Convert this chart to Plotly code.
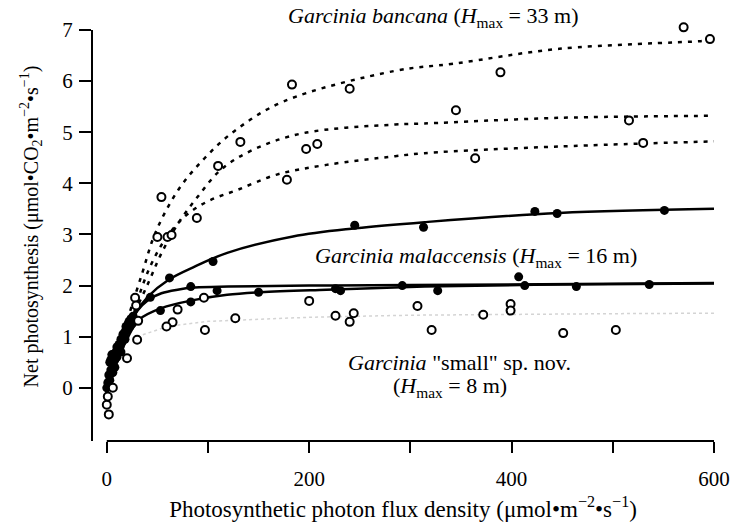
import plotly.graph_objects as go

# ---------------- data ----------------
# open circles, Garcinia bancana (upper group)
open_hi_x = [570, 596, 389, 345, 516, 364, 530, 54, 132, 197, 208, 110, 178, 89, 50, 60, 64, 183, 240]
open_hi_y = [7.05, 6.82, 6.17, 5.43, 5.23, 4.49, 4.79, 3.73, 4.81, 4.67, 4.77, 4.34, 4.07, 3.32, 2.95, 2.95, 2.99, 5.93, 5.85]

# open circles, Garcinia "small" sp. nov. (lower group)
open_lo_x = [307, 372, 399, 399, 321, 451, 503, 96, 70, 28, 29, 200, 226, 244, 240, 127, 65, 59, 97,
             2, 0, 1, 6, 20, 30, 31]
open_lo_y = [1.60, 1.43, 1.64, 1.51, 1.13, 1.07, 1.13, 1.76, 1.53, 1.76, 1.61, 1.70, 1.41, 1.46, 1.29, 1.36, 1.28, 1.20, 1.13,
             -0.52, -0.33, -0.17, 0.0, 0.58, 0.94, 1.31]

# filled circles, Garcinia malaccensis
filled_x = [313, 423, 445, 551, 245, 105, 62,
            292, 327, 407, 413, 464, 536, 83, 109, 150, 226, 231, 83, 53, 43,
            0, 1, 2, 2, 3, 4, 4, 5, 5, 6, 7, 8, 9, 10, 11, 12, 13, 14, 15, 16, 17, 18, 19, 20, 21, 22, 23, 24, 25, 26,
            3, 6, 8, 10, 14, 18]
filled_y = [3.14, 3.45, 3.41, 3.47, 3.18, 2.47, 2.15,
            2.00, 1.90, 2.17, 2.00, 1.98, 2.02, 1.98, 1.90, 1.87, 1.94, 1.90, 1.68, 1.51, 1.77,
            0.0, 0.1, 0.05, 0.25, 0.15, 0.35, 0.55, 0.3, 0.65, 0.45, 0.65, 0.55, 0.7, 0.6, 0.75, 0.85, 0.8, 0.95, 0.9,
            1.05, 1.0, 1.1, 1.2, 1.15, 1.25, 1.3, 1.2, 1.35, 1.25, 1.4,
            0.5, 0.3, 0.4, 0.8, 0.7, 0.95]

# fitted curves
dash1_x = [2, 10, 20, 35, 48, 70.6, 96.6, 126, 174.6, 285, 343, 447, 587, 600]
dash1_y = [0.0, 0.6, 1.3, 2.24, 3.03, 3.87, 4.49, 5.02, 5.6, 6.2, 6.34, 6.63, 6.78, 6.8]
dash2_x = [2, 15, 25, 41, 54, 70.6, 90, 113, 145, 194, 285, 314, 447, 600]
dash2_y = [0.0, 0.8, 1.35, 2.05, 2.63, 3.22, 3.74, 4.27, 4.66, 4.98, 5.15, 5.17, 5.28, 5.32]
dash3_x = [2, 15, 25, 35, 44.5, 57.6, 77, 100, 129, 168, 217, 285, 314, 447, 600]
dash3_y = [0.0, 0.8, 1.35, 1.98, 2.44, 2.9, 3.35, 3.65, 3.87, 4.17, 4.36, 4.53, 4.59, 4.72, 4.82]
solid1_x = [0, 10, 20, 28.4, 41, 60.8, 86.8, 119, 184, 246, 314, 447, 600]
solid1_y = [-0.1, 0.55, 1.1, 1.46, 1.79, 2.11, 2.37, 2.64, 2.96, 3.12, 3.24, 3.42, 3.5]
solid2_x = [0, 10, 21, 30, 41, 54, 70, 87, 120, 200, 300, 600]
solid2_y = [-0.1, 0.6, 1.08, 1.5, 1.72, 1.85, 1.92, 1.96, 1.98, 2.0, 2.01, 2.05]
solid3_x = [0, 10, 20, 31.6, 54, 87, 119, 152, 217, 314, 450, 600]
solid3_y = [-0.1, 0.5, 0.95, 1.33, 1.56, 1.72, 1.82, 1.87, 1.92, 1.98, 2.02, 2.04]
faint_x = [30, 60, 100, 200, 300, 400, 500, 600]
faint_y = [1.0, 1.2, 1.3, 1.38, 1.42, 1.44, 1.45, 1.46]

x_tickvals = [0, 100, 200, 300, 400, 500, 600]
x_ticktext = ["0", "", "200", "", "400", "", "600"]
y_tickvals = [0, 1, 2, 3, 4, 5, 6, 7]

FONT = "Liberation Serif, Times New Roman, serif"

fig = go.Figure()

fig.add_trace(go.Scatter(x=faint_x, y=faint_y, mode="lines",
                         line=dict(color="#d4d4d4", width=1.5, dash="dot"), cliponaxis=False))
for xs, ys in [(dash1_x, dash1_y), (dash2_x, dash2_y), (dash3_x, dash3_y)]:
    fig.add_trace(go.Scatter(x=xs, y=ys, mode="lines", line_shape="spline",
                             line=dict(color="black", width=2.5, dash="4px,6px"), cliponaxis=False))
for xs, ys in [(solid1_x, solid1_y), (solid2_x, solid2_y), (solid3_x, solid3_y)]:
    fig.add_trace(go.Scatter(x=xs, y=ys, mode="lines", line_shape="spline",
                             line=dict(color="black", width=2.5), cliponaxis=False))

fig.add_trace(go.Scatter(x=filled_x, y=filled_y, mode="markers", cliponaxis=False,
                         marker=dict(symbol="circle", size=9, color="black")))
fig.add_trace(go.Scatter(x=open_hi_x + open_lo_x, y=open_hi_y + open_lo_y, mode="markers", cliponaxis=False,
                         marker=dict(symbol="circle", size=8, color="white",
                                     line=dict(color="black", width=2))))

# x axis line only from 0 to 600, y axis line only from bottom to 7
fig.add_shape(type="line", xref="x", yref="paper", x0=0, x1=600, y0=0, y1=0,
              line=dict(color="black", width=2))
fig.add_shape(type="line", xref="paper", yref="y", x0=0, x1=0, y0=-1.04, y1=7,
              line=dict(color="black", width=2))

ANN_FONT = dict(family=FONT, size=22, color="black")
fig.add_annotation(x=322, y=7.26, xref="x", yref="y", showarrow=False,
                   text="<i>Garcinia bancana</i> (<i>H</i><sub>max</sub> = 33 m)", font=ANN_FONT)
fig.add_annotation(x=365, y=2.56, xref="x", yref="y", showarrow=False,
                   text="<i>Garcinia malaccensis</i> (<i>H</i><sub>max</sub> = 16 m)", font=ANN_FONT)
fig.add_annotation(x=349, y=0.49, xref="x", yref="y", showarrow=False,
                   text="<i>Garcinia</i> \"small\" sp. nov.", font=ANN_FONT)
fig.add_annotation(x=339, y=0.02, xref="x", yref="y", showarrow=False,
                   text="(<i>H</i><sub>max</sub> = 8 m)", font=ANN_FONT)

fig.update_layout(
    width=742, height=529,
    margin=dict(l=92, r=19, t=12, b=88),
    paper_bgcolor="white", plot_bgcolor="white",
    showlegend=False,
    font=dict(family=FONT, size=21, color="black"),
    xaxis=dict(range=[-14.6, 600], tickvals=x_tickvals, ticktext=x_ticktext,
               ticks="outside", ticklen=11, tickwidth=2, tickcolor="black",
               showgrid=False, zeroline=False, showline=False,
               ticklabelstandoff=8, tickfont=dict(family=FONT, size=21),
               title=dict(text="Photosynthetic photon flux density (μmol•m<sup>−2</sup>•s<sup>−1</sup>)",
                          font=dict(family=FONT, size=23), standoff=10)),
    yaxis=dict(range=[-1.04, 7.35], tickvals=y_tickvals,
               ticks="outside", ticklen=12, tickwidth=2, tickcolor="black",
               showgrid=False, zeroline=False, showline=False,
               ticklabelstandoff=2, tickfont=dict(family=FONT, size=21),
               title=dict(text="Net photosynthesis (μmol•CO<sub>2</sub>•m<sup>−2</sup>•s<sup>−1</sup>)",
                          font=dict(family=FONT, size=20), standoff=18)),
)

fig.write_html("out.html")
